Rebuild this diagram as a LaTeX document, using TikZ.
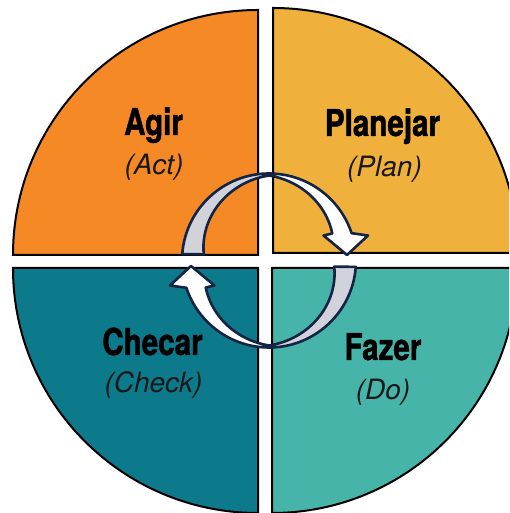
\documentclass[tikz,border=0pt]{standalone}
\usepackage{fontspec}
\setmainfont{TeX Gyre Heros}
\newfontfamily\condbold{TeX Gyre Heros}[FakeStretch=0.8, BoldFeatures={FakeBold=1.2}]
\definecolor{qorange}{RGB}{245,137,38}
\definecolor{qyellow}{RGB}{239,177,59}
\definecolor{qdteal}{RGB}{13,122,140}
\definecolor{qlteal}{RGB}{70,180,168}
\definecolor{arrgrey}{RGB}{210,211,218}
\definecolor{arrline}{RGB}{20,36,68}
\newcommand\cyclearrow{%
  \fill[arrgrey] (175.8:87) arc[start angle=175.8,end angle=90,radius=87]
    -- plot[domain=90:174.6,samples=40] ({(85-0.2305*(\x-90))*cos(\x)},{(85-0.2305*(\x-90))*sin(\x)}) -- cycle;
  \fill[white] (90:87) arc[start angle=90,end angle=18.3,radius=87]
    -- (99,25) -- (78,5.5) -- (54.5,25)
    -- plot[domain=23.1:90,samples=40] ({(68.8+0.2422*(\x-23.1))*cos(\x)},{(68.8+0.2422*(\x-23.1))*sin(\x)}) -- cycle;
  \draw[arr] (175.8:87) arc[start angle=175.8,end angle=18.3,radius=87]
    -- (99,25) -- (78,5.5) -- (54.5,25)
    -- plot[domain=23.1:90,samples=40] ({(68.8+0.2422*(\x-23.1))*cos(\x)},{(68.8+0.2422*(\x-23.1))*sin(\x)})
    -- plot[domain=90:174.6,samples=40] ({(85-0.2305*(\x-90))*cos(\x)},{(85-0.2305*(\x-90))*sin(\x)}) -- cycle;
}
\begin{document}
\begin{tikzpicture}[x=1pt,y=1pt,
  quad/.style={draw=black, line width=2pt, line join=miter},
  arr/.style={draw=arrline, line width=2.6pt, line join=round},
  title/.style={font=\condbold\fontsize{37}{40}\selectfont\bfseries, text=black, anchor=base},
  sub/.style={font=\fontsize{28}{32}\selectfont\itshape, text=black!90, anchor=base}]
\useasboundingbox (0,0) rectangle (509,513);
\fill[white] (0,0) rectangle (509,513);
\begin{scope}
\clip (0,0) rectangle (509,513);
\draw[quad, fill=qorange] (258,258) -- (13,258) arc[start angle=180,end angle=90,radius=245] -- cycle;
\draw[quad, fill=qyellow] (273,260) -- (273,505) arc[start angle=90,end angle=0,radius=245] -- cycle;
\draw[quad, fill=qdteal] (258,245) -- (258,0) arc[start angle=270,end angle=180,radius=245] -- cycle;
\draw[quad, fill=qlteal] (272,245) -- (517,245) arc[start angle=0,end angle=-90,radius=245] -- cycle;
\end{scope}
\begin{scope}[shift={(269,252.5)}]
\cyclearrow
\end{scope}
\begin{scope}[shift={(269,252.5)}, rotate=180]
\cyclearrow
\end{scope}
\node[title] (agir) at (153.5,378) {Agir};
\node[sub] (act) at (154,338) {(Act)};
\node[title] (plan) at (382.5,377) {Planejar};
\node[sub] (planen) at (384.5,336) {(Plan)};
\node[title] (chec) at (152.5,158) {Checar};
\node[sub] (check) at (153.5,120) {(Check)};
\node[title] (faz) at (383,153) {Fazer};
\node[sub] (do) at (383,113) {(Do)};
\end{tikzpicture}
\end{document}
